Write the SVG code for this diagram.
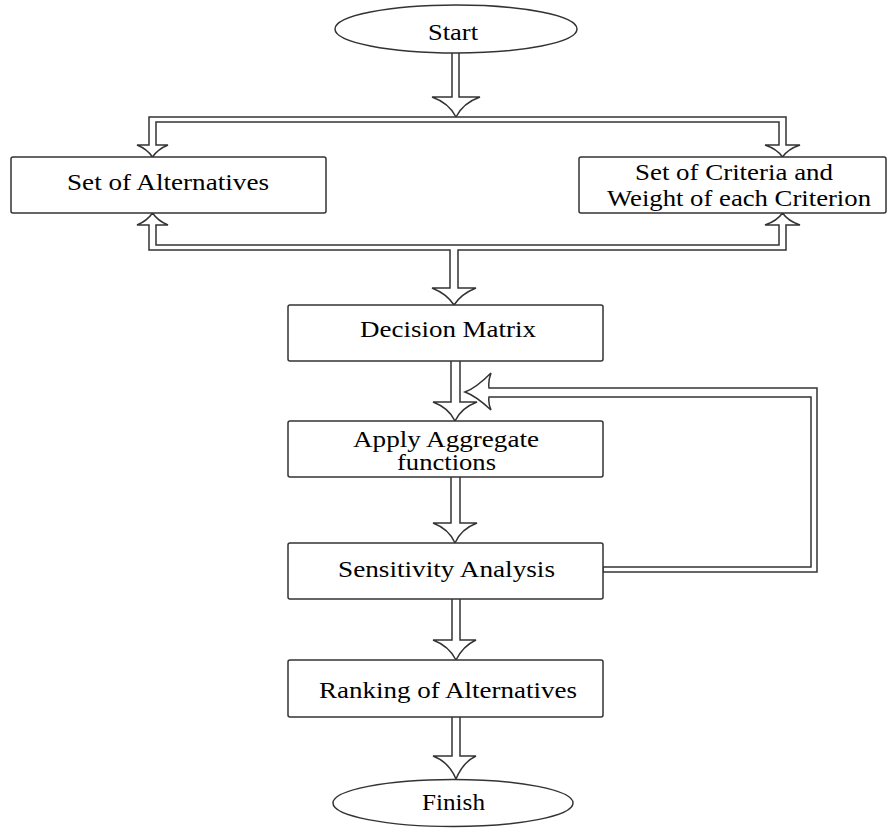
<svg xmlns="http://www.w3.org/2000/svg" width="887" height="828" viewBox="0 0 887 828">
<style>
.box{fill:#fff;stroke:#333;stroke-width:1.5}
.conn{fill:#fff;stroke:#333;stroke-width:1.5;stroke-linejoin:miter}
.t{font-family:"Liberation Serif","Times New Roman",serif;font-size:23px;fill:#000;text-anchor:middle}
</style>
<rect width="887" height="828" fill="#fff"/>
<g id="connectors">
<path class="conn" d="M452,53 L452,97 L432,97 Q449,103 456,117 Q463,103 480,97 L459,97 L459,53"/>
<path class="conn" d="M156,122 L779,122 L779,145 L765,145 Q777,149 782.5,157 Q788,149 800,145 L786,145 L786,117 L149,117 L149,145 L137,145 Q147,149 152.5,157 Q158,149 168,145 L156,145 Z"/>
<path class="conn" d="M149,250 L149,225 L137,225 Q147,221 152.5,213 Q158,221 168,225 L156,225 L156,245 L779,245 L779,225 L765,225 Q777,221 782.5,213 Q788,221 800,225 L786,225 L786,250 L458,250 L458,288 L476,288 Q461,294 454,305 Q447,294 432,288 L450,288 L450,250 Z"/>
<path class="conn" d="M451,361 L451,402 L433,402 Q449,408 455,421 Q461,408 477,402 L460,402 L460,361"/>
<path class="conn" d="M451,477 L451,523 L433,523 Q449,529 455,543 Q461,529 477,523 L460,523 L460,477"/>
<path class="conn" d="M452,599 L452,640 L433,640 Q449,646 456,660 Q463,646 476,640 L460,640 L460,599"/>
<path class="conn" d="M452,717 L452,756 L433,756 Q449,762 456,779 Q463,762 476,756 L460,756 L460,717"/>
<path class="conn" d="M603,567 L811,567 L811,397 L489,397 Q488,403 491,410 Q476,396 465,392 Q476,388 491,373 Q488,381 489,388 L817,388 L817,572 L603,572 Z"/>
</g>
<g id="start">
<ellipse class="box" cx="456" cy="29" rx="121" ry="24"/>
<text class="t" x="453" y="40" textLength="50" lengthAdjust="spacingAndGlyphs">Start</text>
</g>
<g id="alternatives">
<rect class="box" x="11" y="157" width="315" height="56" rx="2"/>
<text class="t" x="168" y="190" textLength="202" lengthAdjust="spacingAndGlyphs">Set of Alternatives</text>
</g>
<g id="criteria">
<rect class="box" x="579" y="157" width="307" height="56" rx="2"/>
<text class="t" x="734" y="180" textLength="198" lengthAdjust="spacingAndGlyphs">Set of Criteria and</text>
<text class="t" x="739" y="206" textLength="264" lengthAdjust="spacingAndGlyphs">Weight of each Criterion</text>
</g>
<g id="decision">
<rect class="box" x="288" y="305" width="315" height="56" rx="2"/>
<text class="t" x="448" y="337" textLength="176" lengthAdjust="spacingAndGlyphs">Decision Matrix</text>
</g>
<g id="aggregate">
<rect class="box" x="288" y="421" width="315" height="56" rx="2"/>
<text class="t" x="446" y="447" textLength="186" lengthAdjust="spacingAndGlyphs">Apply Aggregate</text>
<text class="t" x="446.5" y="470" textLength="99" lengthAdjust="spacingAndGlyphs">functions</text>
</g>
<g id="sensitivity">
<rect class="box" x="288" y="543" width="315" height="56" rx="2"/>
<text class="t" x="446.5" y="577" textLength="217" lengthAdjust="spacingAndGlyphs">Sensitivity Analysis</text>
</g>
<g id="ranking">
<rect class="box" x="288" y="660" width="315" height="57" rx="2"/>
<text class="t" x="448" y="698" textLength="258" lengthAdjust="spacingAndGlyphs">Ranking of Alternatives</text>
</g>
<g id="finish">
<ellipse class="box" cx="453" cy="803" rx="120" ry="23.5"/>
<text class="t" x="453.5" y="810" textLength="63" lengthAdjust="spacingAndGlyphs">Finish</text>
</g>
</svg>
